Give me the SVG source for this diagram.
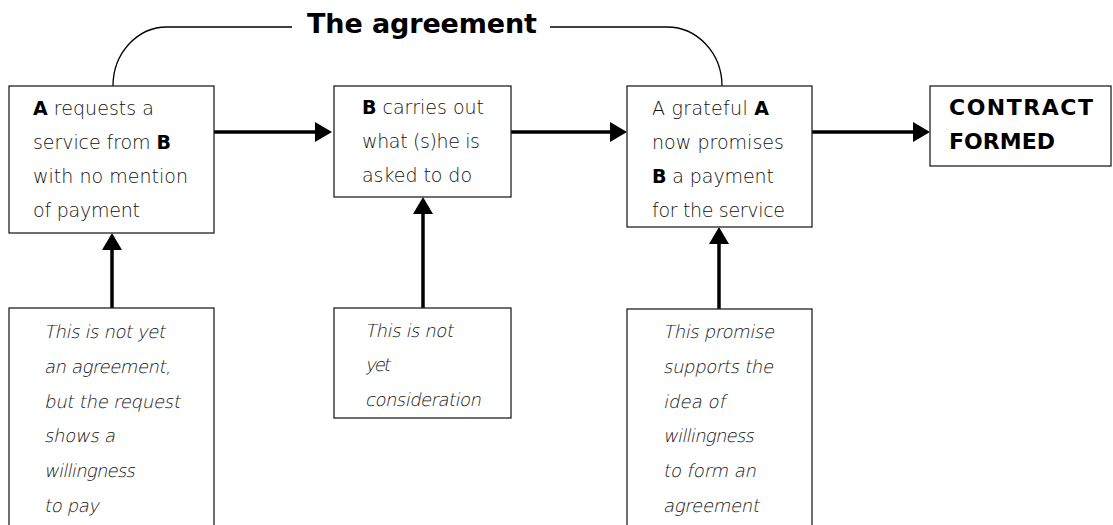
<svg xmlns="http://www.w3.org/2000/svg" width="1113" height="525" viewBox="0 0 1113 525">
<defs>
<style>
.box{fill:#fff;stroke:#222;stroke-width:1.3}
.t{font-family:"DejaVu Sans","Liberation Sans",sans-serif;font-size:19px;font-weight:200;fill:#111}
.b{font-weight:bold;fill:#000}
.i{font-family:"DejaVu Sans","Liberation Sans",sans-serif;font-size:18px;font-weight:200;fill:#111}
.h{font-family:"DejaVu Sans","Liberation Sans",sans-serif;font-weight:bold;fill:#000}
.arr{fill:none;stroke:#000;stroke-width:3.5}
.thin{fill:none;stroke:#000;stroke-width:1.3}
</style>
<marker id="ah" markerUnits="userSpaceOnUse" markerWidth="17" markerHeight="20" refX="9" refY="10" orient="auto" viewBox="0 0 17 20">
<path d="M0,0 L17,10 L0,20 z" fill="#000"/>
</marker>
</defs>
<g id="title">
<path class="thin" d="M113,86 A54,59 0 0 1 167,27 H292"/>
<path class="thin" d="M550,27 H667 A55,59 0 0 1 722,86"/>
<text class="h" x="307" y="33" font-size="27" textLength="230">The agreement</text>
</g>
<g id="connectors">
<path class="arr" d="M214,132 H324" marker-end="url(#ah)"/>
<path class="arr" d="M511,132 H619" marker-end="url(#ah)"/>
<path class="arr" d="M812,132 H922" marker-end="url(#ah)"/>
<path class="arr" d="M112,308 V241" marker-end="url(#ah)"/>
<path class="arr" d="M423,308 V205" marker-end="url(#ah)"/>
<path class="arr" d="M719,309 V235" marker-end="url(#ah)"/>
</g>
<g id="node-request">
<rect class="box" x="9" y="86" width="205" height="147"/>
<text class="t" x="33" y="115" textLength="121"><tspan class="b">A</tspan> requests a</text>
<text class="t" x="33" y="149" textLength="138">service from <tspan class="b">B</tspan></text>
<text class="t" x="33" y="183" textLength="155">with no mention</text>
<text class="t" x="33" y="217" textLength="107">of payment</text>
</g>
<g id="node-carries">
<rect class="box" x="334" y="86" width="177" height="111"/>
<text class="t" x="362" y="114" textLength="122"><tspan class="b">B</tspan> carries out</text>
<text class="t" x="362" y="148" textLength="118">what (s)he is</text>
<text class="t" x="362" y="182" textLength="110">asked to do</text>
</g>
<g id="node-promise">
<rect class="box" x="627" y="86" width="185" height="141"/>
<text class="t" x="652" y="115" textLength="117">A grateful <tspan class="b">A</tspan></text>
<text class="t" x="652" y="149" textLength="132">now promises</text>
<text class="t" x="652" y="183" textLength="122"><tspan class="b">B</tspan> a payment</text>
<text class="t" x="652" y="217" textLength="133">for the service</text>
</g>
<g id="node-contract">
<rect class="box" x="930" y="86" width="181" height="80"/>
<text class="h" x="949" y="115" font-size="22" textLength="144">CONTRACT</text>
<text class="h" x="949" y="149" font-size="22" textLength="106">FORMED</text>
</g>
<g id="note-request">
<rect class="box" x="9" y="308" width="205" height="230"/>
<text class="i" transform="translate(44,338) skewX(-12)" textLength="121">This is not yet</text>
<text class="i" transform="translate(44,373) skewX(-12)" textLength="127">an agreement,</text>
<text class="i" transform="translate(44,408) skewX(-12)" textLength="136">but the request</text>
<text class="i" transform="translate(44,442) skewX(-12)" textLength="71">shows a</text>
<text class="i" transform="translate(44,477) skewX(-12)" textLength="91">willingness</text>
<text class="i" transform="translate(44,512) skewX(-12)" textLength="55">to pay</text>
</g>
<g id="note-carries">
<rect class="box" x="334" y="308" width="177" height="110"/>
<text class="i" transform="translate(365,337) skewX(-12)" textLength="88">This is not</text>
<text class="i" transform="translate(365,371) skewX(-12)" textLength="25">yet</text>
<text class="i" transform="translate(365,406) skewX(-12)" textLength="116">consideration</text>
</g>
<g id="note-promise">
<rect class="box" x="627" y="309" width="185" height="230"/>
<text class="i" transform="translate(663,338) skewX(-12)" textLength="111">This promise</text>
<text class="i" transform="translate(663,373) skewX(-12)" textLength="110">supports the</text>
<text class="i" transform="translate(663,408) skewX(-12)" textLength="62">idea of</text>
<text class="i" transform="translate(663,442) skewX(-12)" textLength="91">willingness</text>
<text class="i" transform="translate(663,477) skewX(-12)" textLength="93">to form an</text>
<text class="i" transform="translate(663,512) skewX(-12)" textLength="96">agreement</text>
</g>
</svg>
